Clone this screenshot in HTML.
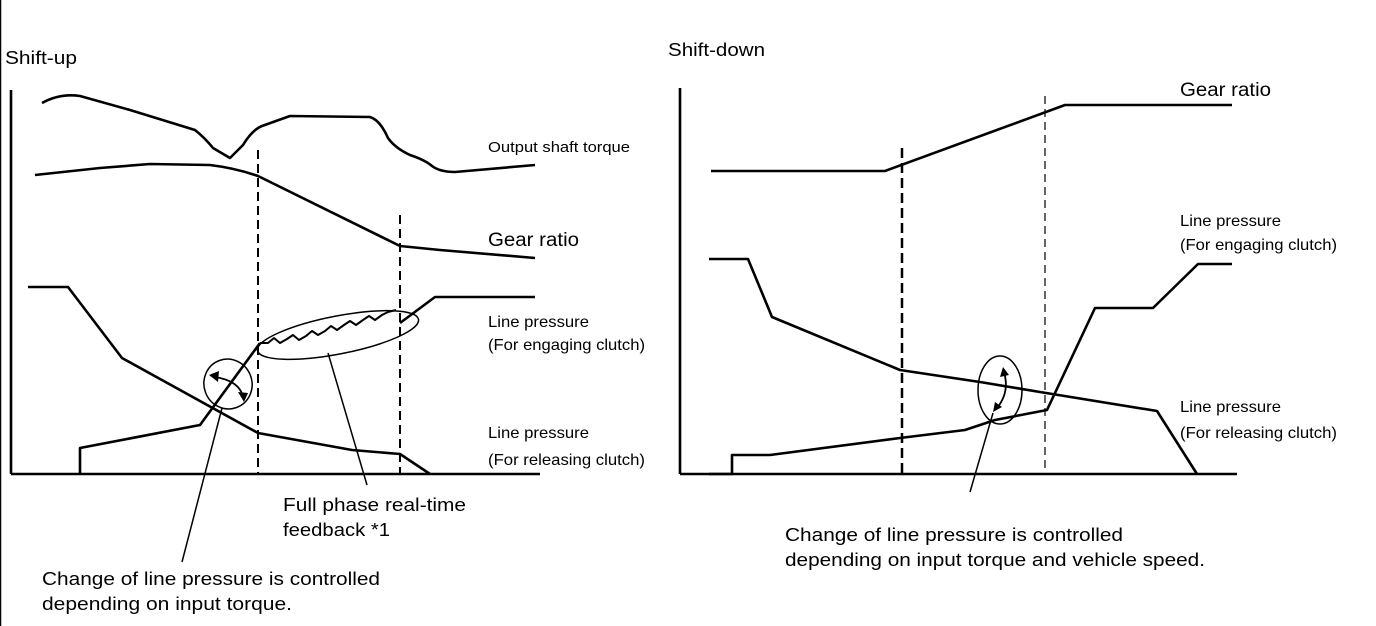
<!DOCTYPE html>
<html><head><meta charset="utf-8"><style>
html,body{margin:0;padding:0;background:#fff;}
svg{display:block;}
text{font-family:"Liberation Sans",sans-serif;fill:#000;}
</style></head><body>
<svg width="1376" height="626" viewBox="0 0 1376 626" xmlns="http://www.w3.org/2000/svg">
<line x1="0.5" y1="0" x2="0.5" y2="626" stroke="#000" stroke-width="1.5"/>
<text x="5" y="64" font-size="18" textLength="72" lengthAdjust="spacingAndGlyphs">Shift-up</text>
<text x="668" y="56" font-size="18" textLength="97" lengthAdjust="spacingAndGlyphs">Shift-down</text>
<g fill="none" stroke="#000" stroke-width="2.6" stroke-linejoin="round">
<line x1="11" y1="90" x2="11" y2="474"/>
<line x1="11" y1="474" x2="540" y2="474"/>
<path d="M42,103 Q60,93 80,96 L130,110 L195,130 Q205,138 213,148 L230,158 L243,145 Q252,130 262,126 L290,116 L370,117 Q380,120 388,138 Q395,148 410,155 Q425,160 432,166 Q440,172 455,172 L535,165"/>
<path d="M35,175 L100,168 L150,164 L210,165 Q235,168 258,176 L400,246 L440,250 L535,258"/>
<path d="M80,474 L80,448 L200,425 L260,343"/>
<path d="M260,343 l8,0 l6,-5 l6,5 l7,-4 l6,-4 l6,5 l7,-4 l6,-5 l6,4 l7,-4 l6,-5 l6,4 l7,-5 l6,-4 l6,4 l7,-5 l6,-4 l6,4 l7,-5 l6,-3 l8,-2" stroke-width="2"/>
<path d="M400,323 L435,297 L535,297"/>
<path d="M28,287 L68,287 L122,358 L258,433 L352,450 L400,454 L430,474"/>
<line x1="680" y1="88" x2="680" y2="474"/>
<line x1="680" y1="474" x2="1237" y2="474"/>
<path d="M711,171 L885,171 L1065,105 L1232,105"/>
<path d="M709,259 L748,259 L772,317 L900,370 L980,382 L1040,392 L1157,411 L1197,474"/>
<path d="M709,474 L732,474 L732,455 L770,455 L900,438 L965,430 L995,420 L1047,410 L1095,308 L1153,308 L1198,264 L1232,264"/>
</g>
<g stroke="#000" fill="none">
<line x1="258" y1="150" x2="258" y2="474" stroke-width="2" stroke-dasharray="9,5"/>
<line x1="400" y1="215" x2="400" y2="474" stroke-width="2" stroke-dasharray="9,5"/>
<line x1="902" y1="148" x2="902" y2="474" stroke-width="2.5" stroke-dasharray="10,5"/>
<line x1="1045" y1="96" x2="1045" y2="474" stroke-width="1.2" stroke-dasharray="8,5"/>
</g>
<g stroke="#000" fill="none" stroke-width="1.5">
<ellipse cx="228" cy="384" rx="24" ry="25" transform="rotate(-20 228 384)"/>
<ellipse cx="338" cy="335" rx="82" ry="19" transform="rotate(-11 338 335)"/>
<line x1="222" y1="408" x2="182" y2="562"/>
<line x1="328" y1="353" x2="367" y2="485"/>
<ellipse cx="1000" cy="390" rx="22" ry="34"/>
<line x1="993" y1="413" x2="970" y2="492"/>
<path d="M214,377 Q238,380 243,396" stroke-width="1.8"/>
<path d="M1004,372 Q1010,392 997,408" stroke-width="1.8"/>
</g>
<g fill="#000">
<polygon points="209,375 219,371 218,382"/>
<polygon points="244,402 238,392 248,393"/>
<polygon points="1003,367 1000,377 1009,375"/>
<polygon points="993,412 995,402 1002,407"/>
</g>
<g font-size="16" lengthAdjust="spacingAndGlyphs">
<text x="488" y="152" font-size="15" textLength="142" lengthAdjust="spacingAndGlyphs">Output shaft torque</text>
<text x="488" y="246" font-size="19" textLength="91" lengthAdjust="spacingAndGlyphs">Gear ratio</text>
<text x="488" y="327" textLength="101" lengthAdjust="spacingAndGlyphs">Line pressure</text>
<text x="488" y="350" textLength="157" lengthAdjust="spacingAndGlyphs">(For engaging clutch)</text>
<text x="488" y="438" textLength="101" lengthAdjust="spacingAndGlyphs">Line pressure</text>
<text x="488" y="465" textLength="157" lengthAdjust="spacingAndGlyphs">(For releasing clutch)</text>
<text x="1180" y="96" font-size="19" textLength="91" lengthAdjust="spacingAndGlyphs">Gear ratio</text>
<text x="1180" y="226" textLength="101" lengthAdjust="spacingAndGlyphs">Line pressure</text>
<text x="1180" y="250" textLength="157" lengthAdjust="spacingAndGlyphs">(For engaging clutch)</text>
<text x="1180" y="412" textLength="101" lengthAdjust="spacingAndGlyphs">Line pressure</text>
<text x="1180" y="438" textLength="157" lengthAdjust="spacingAndGlyphs">(For releasing clutch)</text>
</g>
<g font-size="18">
<text x="283" y="511" textLength="183" lengthAdjust="spacingAndGlyphs">Full phase real-time</text>
<text x="283" y="536" textLength="107" lengthAdjust="spacingAndGlyphs">feedback *1</text>
<text x="42" y="585" textLength="338" lengthAdjust="spacingAndGlyphs">Change of line pressure is controlled</text>
<text x="42" y="610" textLength="250" lengthAdjust="spacingAndGlyphs">depending on input torque.</text>
<text x="785" y="541" textLength="338" lengthAdjust="spacingAndGlyphs">Change of line pressure is controlled</text>
<text x="785" y="566" textLength="420" lengthAdjust="spacingAndGlyphs">depending on input torque and vehicle speed.</text>
</g>
</svg>
</body></html>
